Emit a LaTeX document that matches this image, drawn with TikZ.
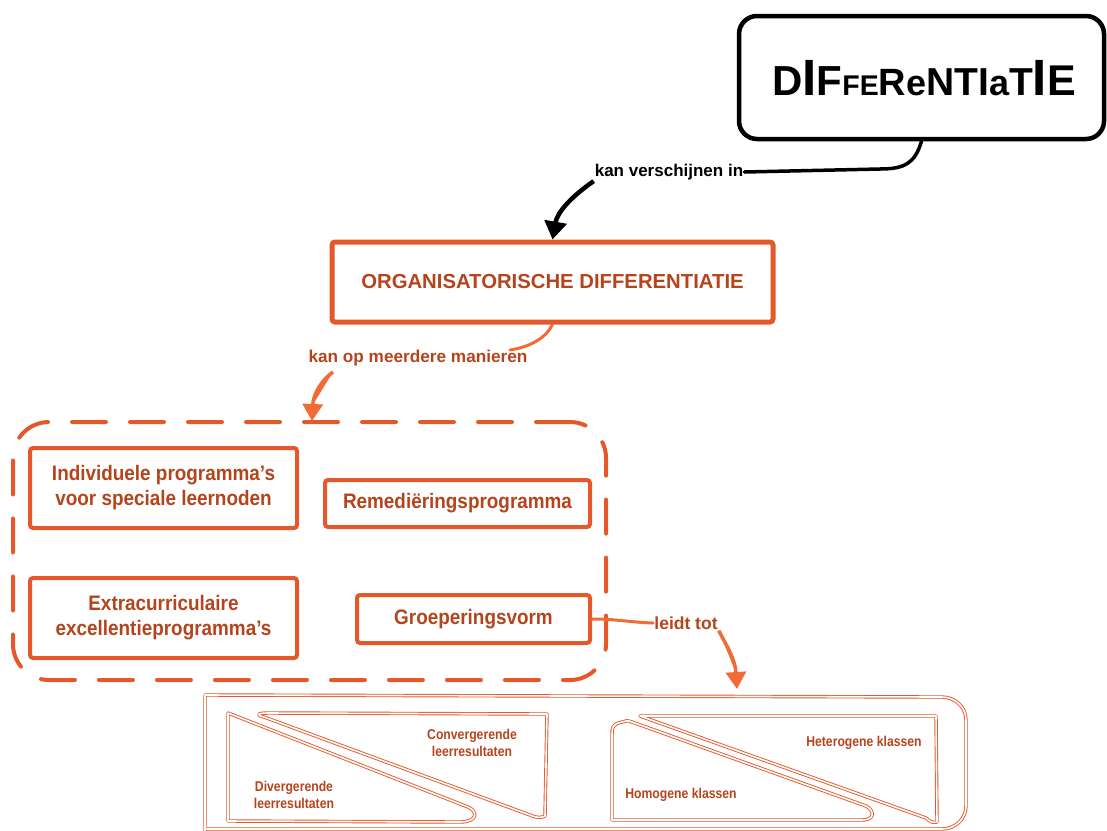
\documentclass[tikz,border=0pt]{standalone}
\usepackage{fontspec}
\setmainfont{Liberation Sans}
\newfontfamily\cond[FakeStretch=0.9]{Liberation Sans}
\newfontfamily\narrow[FakeStretch=0.86]{Liberation Sans}
\usetikzlibrary{arrows.meta}
\definecolor{lineor}{HTML}{E4582A}
\definecolor{textor}{HTML}{B5441D}
\definecolor{heador}{HTML}{F26A36}
\tikzset{
  thickbox/.style={draw=lineor, line width=4pt, rounded corners=3pt, fill=white},
  lbl/.style={font=\cond\bfseries\fontsize{21}{25}\selectfont, text=textor, align=center},
  linklbl/.style={font=\bfseries\fontsize{17.2}{20}\selectfont, text=textor, inner sep=1pt},
  smalllbl/.style={font=\narrow\bfseries\fontsize{14.2}{17}\selectfont, text=textor, align=center},
  orline/.style={draw=heador, line width=3pt, line cap=round},
  orarrow/.style={draw=heador, line width=3.5pt, -{Triangle[length=17pt,width=20pt]}, fill=heador},
  blkarrow/.style={draw=black, line width=4.5pt, -{Triangle[length=18pt,width=22pt]}},
  dbl/.style={draw=lineor, double=white, line width=0.9pt, double distance=1.6pt, line join=round},
}
\begin{document}
\begin{tikzpicture}[x=1pt,y=-1pt]
\useasboundingbox (0,0) rectangle (1107,830);

% title callout
\node[draw=black, line width=4.5pt, rounded corners=18pt, minimum width=365pt, minimum height=123pt, inner sep=0pt] (diff) at (921.5,77.5) {};
\node[anchor=base, inner sep=0pt] (difftxt) at (924,95) {\bfseries
  \fontsize{42}{42}\selectfont D\fontsize{51}{51}\selectfont I\fontsize{42}{42}\selectfont F%
  \fontsize{28.5}{28.5}\selectfont FE\fontsize{38}{38}\selectfont R\fontsize{36}{36}\selectfont e%
  \fontsize{39}{39}\selectfont NTI\fontsize{36}{36}\selectfont a\fontsize{39}{39}\selectfont T%
  \fontsize{51}{51}\selectfont I\fontsize{43}{43}\selectfont E};
\node[font=\bfseries\fontsize{17}{20}\selectfont, inner sep=1pt] (kv) at (669,172) {kan verschijnen in};
\draw[line width=3.5pt, line cap=round] (diff.south) .. controls (915,163) and (905,169) .. (880,169) -- (kv.east);

% main box
\node[thickbox, line width=5pt, minimum width=441pt, minimum height=80pt] (org) at (552.5,282)
  {\bfseries\fontsize{20.3}{24}\selectfont\color{textor}ORGANISATORISCHE DIFFERENTIATIE};
\draw[blkarrow] (kv.south west) to[out=215, in=80] (org.north);

% label between main box and group
\node[linklbl] (km) at (418,358) {kan op meerdere manieren};
\coordinate (kmend) at (510,350);
\coordinate (kmstart) at (333,372);
\draw[orline] (org.south) .. controls (546,338) and (530,347) .. (kmend);

% dashed group
\node[draw=lineor, line width=4pt, dash pattern=on 34pt off 24pt, line cap=round, rounded corners=36pt,
      minimum width=593pt, minimum height=258pt] (grp) at (309.5,551) {};
\coordinate (grptop) at (312,421);
\draw[orarrow] (kmstart) .. controls (318,383) and (313,398) .. (grptop);

% four forms
\node[thickbox, minimum width=267pt, minimum height=80pt, lbl] (b1) at (163.5,488)
  {Individuele programma’s\\voor speciale leernoden};
\node[thickbox, minimum width=265pt, minimum height=47pt, lbl] (b2) at (457.5,503.5) {Remediëringsprogramma};
\node[thickbox, minimum width=267pt, minimum height=80pt, lbl] (b3) at (163.5,618)
  {Extracurriculaire\\excellentieprogramma’s};
\node[thickbox, minimum width=233pt, minimum height=48pt, lbl] (b4) at (473.5,619) {Groeperingsvorm};

% leads to
\node[linklbl, font=\bfseries\fontsize{17.5}{20}\selectfont] (lt) at (686,623) {leidt tot};
\draw[orline] (b4.east) to[out=0, in=178] (lt.west);
\coordinate (outtop) at (737,689);
\draw[orarrow] (lt.south east) .. controls (726,645) and (735,658) .. (outtop);

% outcomes panel
\draw[dbl] (205,840) -- (205,695) -- (942,697) to[out=0,in=90] (966,720) -- (966,806) to[out=-90,in=0] (942,829) -- (205,829);

% divergent / convergent
\draw[dbl] (228,713) -- (228,821) -- (460,822) .. controls (478,822) and (478,811) .. (468,807) -- cycle;
\draw[dbl] (264,717) .. controls (255,715) and (258,713) .. (268,713) -- (547,714) -- (545,816)
  .. controls (541,818) and (537,818) .. (530,815) -- cycle;
\node[smalllbl] (div) at (294,795) {Divergerende\\leerresultaten};
\node[smalllbl] (conv) at (472,743) {Convergerende\\leerresultaten};

% homogeneous / heterogeneous
\draw[dbl] (622,722) .. controls (612,724) and (612,728) .. (612,735) -- (612,820) -- (862,820)
  .. controls (876,820) and (874,810) .. (866,806) -- (632,722) .. controls (628,720) and (625,721) .. (622,722);
\draw[dbl] (640,716) -- (936,716) -- (937,822) .. controls (933,823) and (930,822) .. (926,818) -- cycle;
\node[smalllbl] (hom) at (681,795) {Homogene klassen};
\node[smalllbl] (het) at (864,743) {Heterogene klassen};
\end{tikzpicture}
\end{document}
